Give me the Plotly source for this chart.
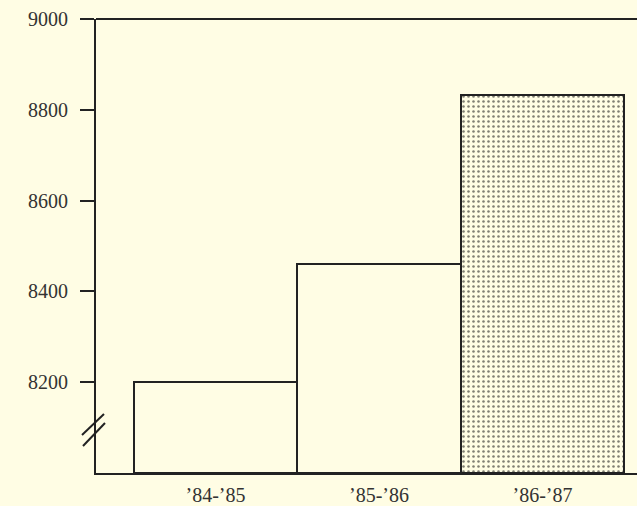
import plotly.graph_objects as go

categories = ["\u201984-\u201985", "\u201985-\u201986", "\u201986-\u201987"]
values = [8200, 8460, 8832]
y_ticks = [8200, 8400, 8600, 8800, 9000]
patterns = ["", "", "."]

BG = "#FFFDE4"
INK = "#222222"
TXT = "#333333"
FONT = "Liberation Serif"
FS = 20

W, H = 637, 506
L, R, T, B = 96, 0, 19, 33
pw, ph = W - L - R, H - T - B
y0, y1 = 8000, 9000

fig = go.Figure()
fig.add_trace(go.Bar(
    x=categories,
    y=[v - y0 for v in values],
    base=y0,
    width=1,
    marker=dict(
        color=BG,
        line=dict(color=INK, width=2),
        pattern=dict(shape=patterns, fgcolor="#000000", bgcolor=BG,
                     size=5, solidity=0.2, fillmode="overlay"),
    ),
    hoverinfo="skip",
))

def px_to_paper_x(px):
    return (px - L) / pw

def px_to_paper_y(py):
    return (T + ph - py) / ph

shapes = [
    # top border line at 9000
    dict(type="line", xref="paper", yref="paper", x0=0, x1=1, y0=1, y1=1,
         line=dict(color=INK, width=2)),
]
# axis break marks
for (ax, ay, bx, by) in [(82, 435, 104, 414), (83, 446, 105, 423)]:
    shapes.append(dict(type="line", xref="paper", yref="paper",
                       x0=px_to_paper_x(ax), y0=px_to_paper_y(ay),
                       x1=px_to_paper_x(bx), y1=px_to_paper_y(by),
                       line=dict(color=INK, width=2)))

fig.update_layout(
    width=W, height=H,
    margin=dict(l=L, r=R, t=T, b=B, pad=0),
    paper_bgcolor=BG, plot_bgcolor=BG,
    showlegend=False,
    bargap=0,
    shapes=shapes,
    font=dict(family=FONT, size=FS, color=TXT),
    xaxis=dict(
        type="category",
        range=[-0.731, 2.578],
        showline=True, linecolor=INK, linewidth=2,
        showgrid=False, zeroline=False,
        ticks="", ticklabelstandoff=3,
        tickfont=dict(family=FONT, size=FS, color=TXT),
    ),
    yaxis=dict(
        range=[y0, y1],
        tickvals=y_ticks,
        ticktext=[str(v) for v in y_ticks],
        showline=True, linecolor=INK, linewidth=2,
        showgrid=False, zeroline=False,
        ticks="outside", ticklen=14, tickwidth=2, tickcolor=INK,
        ticklabelstandoff=8,
        tickfont=dict(family=FONT, size=FS, color=TXT),
    ),
)

fig.write_html(
    "out.html",
    config={"displayModeBar": False},
    post_script="document.body.style.margin='0';document.body.style.background='%s';" % BG,
)
